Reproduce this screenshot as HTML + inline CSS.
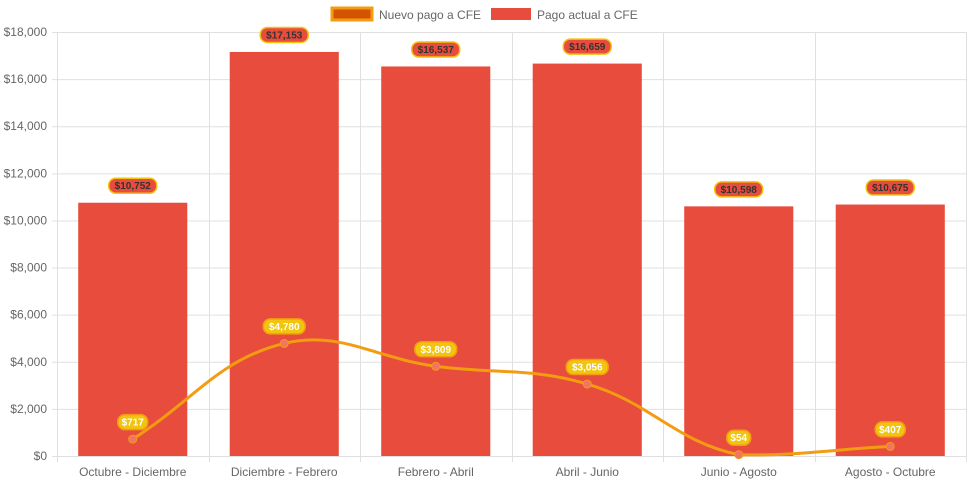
<!DOCTYPE html>
<html><head><meta charset="utf-8"><style>
body{margin:0;background:#fff;font-family:"Liberation Sans",Arial,sans-serif}
svg text{font-family:"Liberation Sans",Arial,sans-serif}
</style></head><body>
<svg id="c" width="971" height="485" xmlns="http://www.w3.org/2000/svg">
<g id="legend">
<g><rect x="332" y="8" width="40" height="12" fill="#d35400" stroke="#f39c12" stroke-width="3"/><text x="379" y="19" font-size="12" fill="#666">Nuevo pago a CFE</text></g>
<g><rect x="491" y="8" width="40" height="12" fill="#e74c3c"/><text x="537" y="19" font-size="12" fill="#666">Pago actual a CFE</text></g>
</g>
</svg>
<script>
const categories=["Octubre - Diciembre","Diciembre - Febrero","Febrero - Abril","Abril - Junio","Junio - Agosto","Agosto - Octubre"];
const actual=[10752,17153,16537,16659,10598,10675];
const nuevo=[717,4780,3809,3056,54,407];
const yTicks=[0,2000,4000,6000,8000,10000,12000,14000,16000,18000];
const NS="http://www.w3.org/2000/svg";
const svg=document.getElementById('c');
const X0=57,X1=966,Y0=456,Y1=32,YMAX=18000;
const bw=(X1-X0)/categories.length;
const y=v=>Y0-(v/YMAX)*(Y0-Y1);
const xc=i=>X0+bw*(i+0.5);
function mk(t,a,p){const e=document.createElementNS(NS,t);for(const k in a)e.setAttribute(k,a[k]);(p||svg).appendChild(e);return e;}
const fmt=v=>'$'+v.toLocaleString('en-US');
const grid=mk('g',{});


yTicks.forEach(t=>{
  const l=mk('line',{x1:X0-5,x2:X1,y1:y(t)+0.5,y2:y(t)+0.5,stroke:'#e0e0e0'},grid);
  
  
  const tx=mk('text',{x:X0-10,y:y(t)+4,'font-size':12,fill:'#666','text-anchor':'end'},grid);
  tx.textContent=fmt(t);
  
  
});
for(let i=0;i<=categories.length;i++){
  const gx=Math.round(X0+bw*i)+0.5;
  const l=mk('line',{x1:gx,x2:gx,y1:Y1,y2:Y0+6,stroke:'#e0e0e0'},grid);
  
  
}
categories.forEach((c,i)=>{
  const tx=mk('text',{x:xc(i),y:476,'font-size':12,fill:'#666','text-anchor':'middle'});
  tx.textContent=c;
  
  
});
const barW=bw*0.72;
actual.forEach((v,i)=>{
  const r=mk('rect',{x:xc(i)-barW/2,y:y(v),width:barW,height:Y0-y(v),fill:'#e74c3c'});
  
  
});
// line with Chart.js-like spline tension 0.4
const pts=nuevo.map((v,i)=>({x:xc(i),y:y(v)}));
let d='M'+pts[0].x+','+pts[0].y;
const t=0.4;
function cp(p0,p1,p2){const d01=Math.hypot(p1.x-p0.x,p1.y-p0.y),d12=Math.hypot(p2.x-p1.x,p2.y-p1.y);let fa=d01/(d01+d12),fb=d12/(d01+d12);fa*=t;fb*=t;return{prev:{x:p1.x-fa*(p2.x-p0.x),y:p1.y-fa*(p2.y-p0.y)},next:{x:p1.x+fb*(p2.x-p0.x),y:p1.y+fb*(p2.y-p0.y)}};}
const cps=pts.map((p,i)=>cp(pts[Math.max(0,i-1)],p,pts[Math.min(pts.length-1,i+1)]));
for(let i=1;i<pts.length;i++){
  const a=cps[i-1].next,b=cps[i].prev;
  const clampY=v=>Math.min(Y0,v);
  d+=` C${a.x},${clampY(a.y)} ${b.x},${clampY(b.y)} ${pts[i].x},${pts[i].y}`;
}
const path=mk('path',{d:d,fill:'none',stroke:'#f39c12','stroke-width':3});


pts.forEach((p,i)=>{
  const c=mk('circle',{cx:p.x,cy:p.y,r:4,fill:'#f1736a',stroke:'#f39c12','stroke-width':1});
  
  
});
function label(cx,cy,txt,fill,stroke,color,name){
  const g=mk('g',{});
  
  
  const w=txt.length*6+6;
  mk('rect',{x:cx-w/2,y:cy-7.5,width:w,height:15,rx:7,fill:fill,stroke:stroke,'stroke-width':1.5},g);
  const tx=mk('text',{x:cx,y:cy+3.5,'font-size':10,'font-weight':'bold',fill:color,'text-anchor':'middle'},g);
  tx.textContent=txt;
}
actual.forEach((v,i)=>label(xc(i),y(v)-17,fmt(v),'#e74c3c','#f1c40f','#333','bar-value-label'));
nuevo.forEach((v,i)=>label(xc(i),y(v)-17,fmt(v),'#f1c40f','#f39c12','#fff','line-value-label'));
</script>
</body></html>
